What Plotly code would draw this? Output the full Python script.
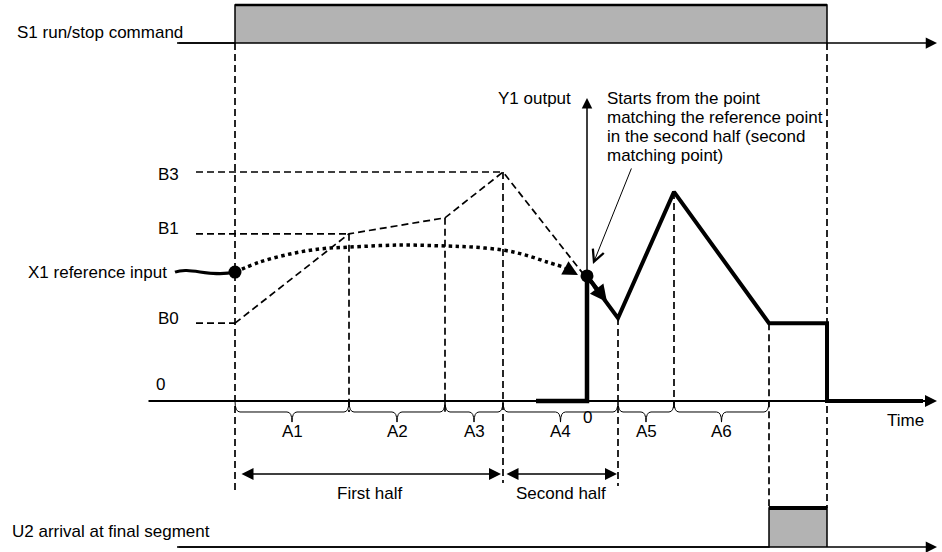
import plotly.graph_objects as go

# ---- time (0 = run command, arbitrary units) ----
segment_edges = [0.0, 11.4, 21.0, 26.8, 38.3, 43.9, 53.4]
segment_labels = ["A1", "A2", "A3", "A4", "A5", "A6"]
run_stop_t = 59.2
first_half = [0.0, 26.8]
second_half = [26.8, 38.3]

# ---- levels (percent of B3) ----
level_names = ["B3", "B1", "B0"]
level_values = [100.0, 73.0, 34.0]
level_ends = [26.8, 11.4, 0.0]

# dashed speed pattern
pattern_t = [0.0, 11.4, 21.0, 26.8, 38.3]
pattern_v = [34.0, 73.0, 80.0, 100.0, 36.2]

# X1 reference input (dotted curve)
ref_t = [0.0, 2.5, 5.5, 8.5, 11.4, 16.5, 21.0, 23.8, 26.8, 29.0, 31.2, 32.8]
ref_v = [56.3, 60.7, 64.2, 66.4, 67.2, 68.1, 67.7, 67.2, 65.9, 63.8, 60.7, 58.6]
ref_tip = (34.3, 55.0)

# Y1 output
match_t, match_v = 35.2, 54.6
y1_pre_t = [30.1, 35.2, 35.2]
y1_pre_v = [0.0, 0.0, 52.0]
y1_t = [35.2, 38.3, 43.9, 53.4, 59.2, 59.2, 68.8]
y1_v = [54.6, 36.2, 91.3, 34.0, 34.0, 0.0, 0.0]

# S1 run/stop command and U2 arrival signals
s1_t = [-5.8, 0.0, 0.0, 59.2, 59.2]
s1_state = [0, 0, 1, 1, 0]
u2_t = [-5.8, 53.4, 53.4, 59.2, 59.2]
u2_state = [0, 0, 1, 1, 0]

# lanes on the shared y scale
S1_BASE, S1_STEP = 156.3, 16.6
U2_BASE, U2_STEP = -63.8, 17.1
BRACE_MID, BRACE_TIP = -4.8, -9.2
AXIS_END = 70.2

# vertical dashed guides: (t, top, bottom)
guide_t = [0.0, 11.4, 21.0, 26.8, 38.3, 43.9, 53.4, 59.2]
guide_top = [S1_BASE, 73.0, 80.0, 100.0, 36.2, 91.3, 34.0, S1_BASE]
guide_bottom = [-38.9, BRACE_MID, BRACE_MID, -35.8, -37.1, BRACE_MID,
                U2_BASE + U2_STEP, U2_BASE + U2_STEP]

FONT = dict(family="Liberation Sans, Arial, sans-serif", size=17, color="black")
DASH = "7px,4px"
GRAY = "#b3b3b3"


def s1_level(s):
    return S1_BASE + s * S1_STEP


def u2_level(s):
    return U2_BASE + s * U2_STEP


fig = go.Figure()

# dashed guides and levels
gx, gy = [], []
for t, top, bot in zip(guide_t, guide_top, guide_bottom):
    gx += [t, t, None]
    gy += [top, bot, None]
for v, end in zip(level_values, level_ends):
    gx += [-3.9, end, None]
    gy += [v, v, None]
fig.add_trace(go.Scatter(x=gx, y=gy, mode="lines",
                         line=dict(color="black", width=1.7, dash=DASH)))
fig.add_trace(go.Scatter(x=pattern_t, y=pattern_v, mode="lines",
                         line=dict(color="black", width=1.7, dash=DASH)))

# S1 signal
fig.add_trace(go.Scatter(x=s1_t, y=[s1_level(s) for s in s1_state], mode="lines",
                         fill="toself", fillcolor=GRAY,
                         line=dict(color="black", width=1.5)))
fig.add_trace(go.Scatter(x=[s1_t[2], s1_t[3]], y=[s1_level(1)] * 2, mode="lines",
                         line=dict(color="black", width=2.5)))

# U2 signal
fig.add_trace(go.Scatter(x=u2_t, y=[u2_level(s) for s in u2_state], mode="lines",
                         fill="toself", fillcolor=GRAY,
                         line=dict(color="black", width=1.5)))
fig.add_trace(go.Scatter(x=[u2_t[2], u2_t[3]], y=[u2_level(1)] * 2, mode="lines",
                         line=dict(color="black", width=4)))

# X1 reference input
fig.add_trace(go.Scatter(x=ref_t, y=ref_v, mode="lines", line_shape="spline",
                         line=dict(color="black", width=3.5, dash="3.5px,3.5px")))

# Y1 output
fig.add_trace(go.Scatter(x=y1_pre_t, y=y1_pre_v, mode="lines",
                         line=dict(color="black", width=4.5)))
fig.add_trace(go.Scatter(x=y1_t, y=y1_v, mode="lines",
                         line=dict(color="black", width=4)))

# dots
fig.add_trace(go.Scatter(x=[ref_t[0], match_t], y=[ref_v[0], match_v], mode="markers",
                         marker=dict(color="black", size=13)))

ann = []


def arrow(x, y, ax, ay, width, size, head=2, both=False):
    d = dict(x=x, y=y, ax=ax, ay=ay, xref="x", yref="y", axref="x", ayref="y",
             text="", showarrow=True, arrowhead=head, arrowsize=size,
             arrowwidth=width, arrowcolor="black")
    if both:
        d.update(arrowside="end+start", startarrowhead=head, startarrowsize=size)
    ann.append(d)


# axes lines with arrows
arrow(AXIS_END, s1_level(0), s1_t[0], s1_level(0), 1.5, 1.5)
arrow(AXIS_END, u2_level(0), u2_t[0], u2_level(0), 1.5, 1.5)
arrow(AXIS_END, 0, -8.8, 0, 2, 1.2)
arrow(match_t, 132.3, match_t, 0, 1.5, 1.4)
fig.add_trace(go.Scatter(x=[y1_t[-2], y1_t[-1]], y=[0, 0], mode="lines",
                         line=dict(color="black", width=4)))

# curve arrowheads
arrow(ref_tip[0], ref_tip[1], ref_t[-1], ref_v[-1], 2, 1.5)
arrow(37.2, 43.2, match_t, match_v, 4, 0.85)

# pointer to matching point
arrow(35.8, 59.8, 39.7, 102.2, 1, 2.3, head=5)

# half spans
arrow(first_half[1] - 0.2, -31.9, first_half[0] + 0.5, -31.9, 1.5, 1.6, both=True)
arrow(second_half[1] - 0.1, -31.9, second_half[0] + 0.2, -31.9, 1.5, 1.6, both=True)


def text(x, y, s, xanchor="center"):
    ann.append(dict(x=x, y=y, xref="x", yref="y", text=s, showarrow=False,
                    xanchor=xanchor, yanchor="middle", font=FONT))


text(-22.0, 161.1, "S1 run/stop command", "left")
text(-22.5, -57.2, "U2 arrival at final segment", "left")
text(-6.6, ref_v[0], "X1 reference input", "right")
for name, ty in zip(level_names, [98.7, 75.5, 36.2]):
    text(-5.4, ty, name, "right")
text(-7.5, 7.4, "0")
text(match_t, -7.0, "0")
text(67.0, -8.3, "Time")
text(33.8, 132.3, "Y1 output", "right")
note = ["Starts from the point", "matching the reference point",
        "in the second half (second", "matching point)"]
for i, line in enumerate(note):
    text(37.0, 132.3 - 8.3 * i, line, "left")
for a, b, lab in zip(segment_edges[:-1], segment_edges[1:], segment_labels):
    text((a + b) / 2, -13.1, lab)
text(sum(first_half) / 2, -40.2, "First half")
text(sum(second_half) / 2, -40.2, "Second half")

# braces
shapes = []
r = 0.5
for a, b in zip(segment_edges[:-1], segment_edges[1:]):
    m = (a + b) / 2
    p = (f"M {a},0 Q {a},{BRACE_MID} {a + r},{BRACE_MID} L {m - r},{BRACE_MID} "
         f"Q {m},{BRACE_MID} {m},{BRACE_TIP} Q {m},{BRACE_MID} {m + r},{BRACE_MID} "
         f"L {b - r},{BRACE_MID} Q {b},{BRACE_MID} {b},0")
    shapes.append(dict(type="path", path=p, xref="x", yref="y",
                       line=dict(color="black", width=1)))

# wavy input line
shapes.append(dict(type="path", xref="x", yref="y",
                   path=f"M -6.0,{ref_v[0]} C -4.5,{ref_v[0] + 2.5} -2.5,{ref_v[0] - 2.5} 0,{ref_v[0]}",
                   line=dict(color="black", width=3)))

fig.update_layout(
    width=942, height=552,
    margin=dict(l=0, r=0, t=0, b=0),
    paper_bgcolor="white", plot_bgcolor="white",
    showlegend=False,
    xaxis=dict(range=[-23.5, 70.7], visible=False, fixedrange=True),
    yaxis=dict(range=[-65.94, 175.11], visible=False, fixedrange=True),
    annotations=ann, shapes=shapes,
)

fig.write_html("out.html", config={"displayModeBar": False},
               post_script="document.body.style.margin = '0px';")
